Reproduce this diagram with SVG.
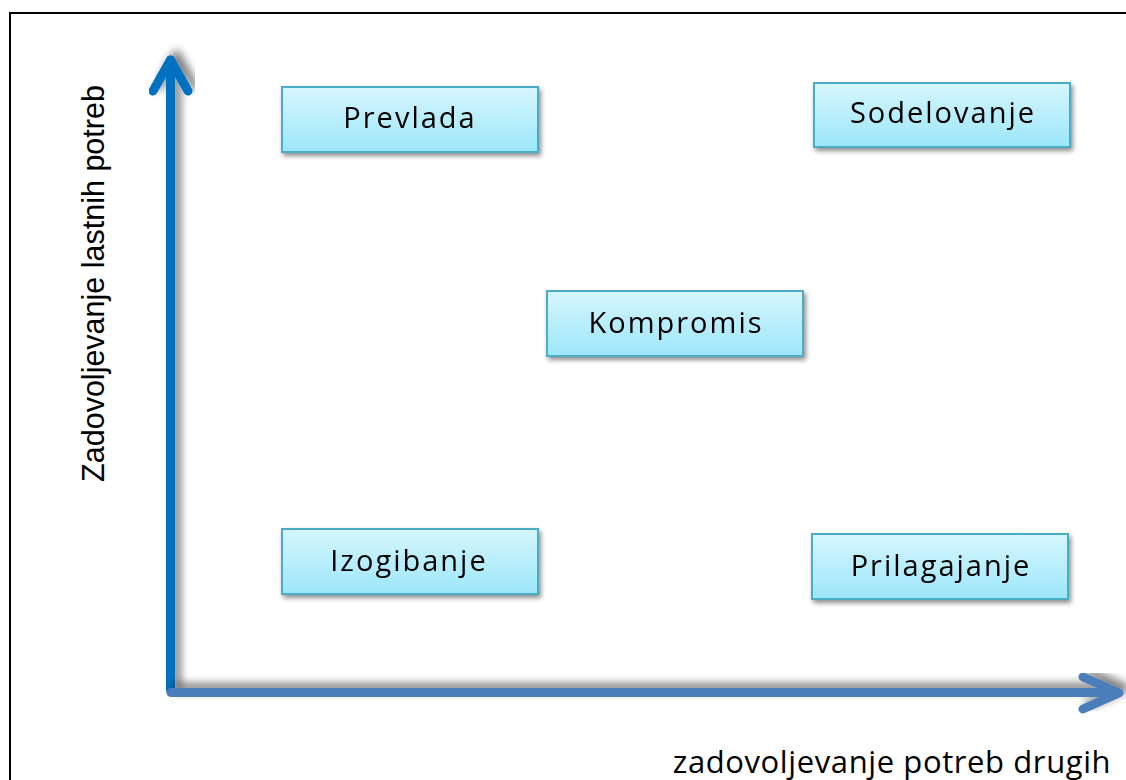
<svg xmlns="http://www.w3.org/2000/svg" width="1126" height="780" viewBox="0 0 1126 780">
<defs>
<linearGradient id="g" x1="0" y1="0" x2="0" y2="1">
<stop offset="0" stop-color="#d6f6fd"/>
<stop offset="1" stop-color="#9ce6fa"/>
</linearGradient>
<filter id="sh" x="-20%" y="-20%" width="150%" height="160%">
<feGaussianBlur in="SourceAlpha" stdDeviation="2.5"/>
<feOffset dx="2" dy="3" result="b"/>
<feComponentTransfer><feFuncA type="linear" slope="0.45"/></feComponentTransfer>
<feMerge><feMergeNode/><feMergeNode in="SourceGraphic"/></feMerge>
</filter>
<filter id="ash" x="-10%" y="-10%" width="130%" height="130%">
<feGaussianBlur in="SourceAlpha" stdDeviation="4"/>
<feOffset dx="6" dy="-5"/>
<feComponentTransfer><feFuncA type="linear" slope="0.5"/></feComponentTransfer>
<feMerge><feMergeNode/><feMergeNode in="SourceGraphic"/></feMerge>
</filter>
<style>
.box{fill:url(#g);stroke:#4bacc6;stroke-width:2}
.t{font-family:"Open Sans","DejaVu Sans",sans-serif;font-size:29px;letter-spacing:2px;fill:#000;text-anchor:middle}
.ax{fill:none;stroke-width:9;stroke-linecap:round;stroke-linejoin:round}
</style>
</defs>
<rect width="1126" height="780" fill="#fff"/>
<path d="M10 790 V13 H1140" fill="none" stroke="#000" stroke-width="2"/>
<g id="connectors">
<g filter="url(#ash)">
<path class="ax" stroke="#0070c0" d="M170.5 690 V60" stroke-linecap="butt"/>
<path class="ax" stroke="#0070c0" d="M153 91 L170.5 60 L188 91"/>
</g>
<g filter="url(#ash)">
<path class="ax" stroke="#4a7ebb" d="M171 692.5 H1118" stroke-linecap="butt"/>
<path class="ax" stroke="#4a7ebb" d="M1083 677 L1119 693 L1083 709"/>
</g>
</g>
<g id="prevlada" filter="url(#sh)"><rect class="box" x="282" y="87" width="256" height="65"/><text class="t" x="410" y="128">Prevlada</text></g>
<g id="sodelovanje" filter="url(#sh)"><rect class="box" x="814" y="83" width="256" height="64"/><text class="t" x="943" y="123">Sodelovanje</text></g>
<g id="kompromis" filter="url(#sh)"><rect class="box" x="547" y="291" width="256" height="65"/><text class="t" x="676" y="333">Kompromis</text></g>
<g id="izogibanje" filter="url(#sh)"><rect class="box" x="282" y="529" width="256" height="65"/><text class="t" x="409" y="571">Izogibanje</text></g>
<g id="prilagajanje" filter="url(#sh)"><rect class="box" x="812" y="534" width="256" height="65"/><text class="t" x="941" y="576">Prilagajanje</text></g>
<text id="ylabel" transform="translate(104 283.5) rotate(-90)" font-family="Liberation Sans, Arial, sans-serif" font-size="30.5" text-anchor="middle">Zadovoljevanje lastnih potreb</text>
<text id="xlabel" x="892" y="773" font-family="Open Sans, sans-serif" font-size="31" letter-spacing="0.6" text-anchor="middle">zadovoljevanje potreb drugih</text>
</svg>
